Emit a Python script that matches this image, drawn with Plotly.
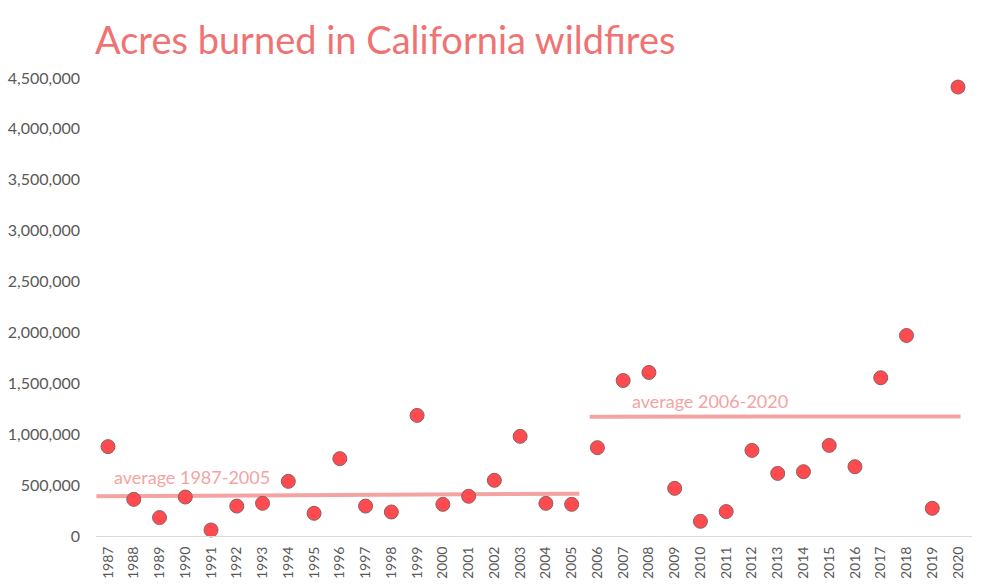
import plotly.graph_objects as go

years = list(range(1987, 2021))
acres = [878000, 360000, 181000, 383000, 59000, 294000, 321000, 537000, 223000, 760000,
         294000, 236000, 1185000, 311000, 390000, 547000, 979000, 321000, 311000,
         868000, 1528000, 1607000, 468000, 144000, 240000, 841000, 615000, 632000,
         890000, 681000, 1555000, 1970000, 272000, 4411000]

avg1_x = [1986.55, 2005.3]
avg1_y = [390000, 416000]
avg2_x = [2005.7, 2020.1]
avg2_y = [1172000, 1175000]

y_ticks = list(range(0, 4500001, 500000))

font_fam = "Lato, Open Sans, sans-serif"
line_col = "#F4A3A3"

fig = go.Figure()
fig.add_trace(go.Scatter(x=avg1_x, y=avg1_y, mode="lines",
                         line=dict(color=line_col, width=4), hoverinfo="skip", showlegend=False))
fig.add_trace(go.Scatter(x=avg2_x, y=avg2_y, mode="lines",
                         line=dict(color=line_col, width=4), hoverinfo="skip", showlegend=False))
fig.add_trace(go.Scatter(x=years, y=acres, mode="markers", cliponaxis=False,
                         marker=dict(size=14, color="#FF4B4F", line=dict(color="#8C6060", width=1)),
                         showlegend=False))

fig.update_layout(
    width=988, height=586,
    margin=dict(l=96, r=16, t=78, b=50),
    paper_bgcolor="white", plot_bgcolor="white",
    font=dict(family=font_fam, color="#595959"),
    title=dict(text="Acres burned in California wildfires", x=95/988, xanchor="left",
               y=1 - 41/586, yanchor="middle", xref="container", yref="container",
               font=dict(size=38, color="#F07373", family=font_fam)),
    xaxis=dict(range=[1986.534, 2020.543], tickmode="array", tickvals=years,
               ticktext=[str(y) for y in years], tickangle=-90, showgrid=False,
               zeroline=False, showline=True, linecolor="#D9D9D9", linewidth=1,
               ticks="", tickfont=dict(size=14, color="#595959"), ticklabelstandoff=4,
               automargin=False),
    yaxis=dict(range=[0, 4500000], tickmode="array", tickvals=y_ticks,
               ticktext=[f"{v:,}" for v in y_ticks], showgrid=False, zeroline=False,
               showline=False, ticks="", tickfont=dict(size=16, color="#595959"),
               ticklabelstandoff=15, automargin=False),
    annotations=[
        dict(text="average 1987-2005", x=1987.16, y=576000, xref="x", yref="y",
             xanchor="left", yanchor="middle", showarrow=False,
             font=dict(size=18, color=line_col, family=font_fam)),
        dict(text="average 2006-2020", x=2007.26, y=1322000, xref="x", yref="y",
             xanchor="left", yanchor="middle", showarrow=False,
             font=dict(size=18, color=line_col, family=font_fam)),
    ],
)

fig.write_html("out.html", config={"displayModeBar": False},
               post_script="document.body.style.margin='0';document.body.style.overflow='hidden';")
